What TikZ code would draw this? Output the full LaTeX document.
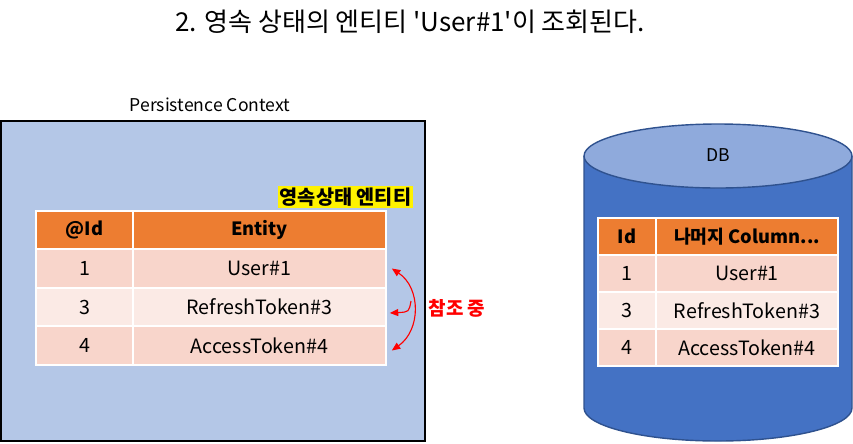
\documentclass[tikz,border=0pt]{standalone}
\usepackage{fontspec}
\setmainfont{Noto Sans CJK KR}
\usetikzlibrary{arrows.meta}

\definecolor{ctxblue}{HTML}{B4C7E7}
\definecolor{hdrorange}{HTML}{ED7D31}
\definecolor{rowa}{HTML}{F8D5CB}
\definecolor{rowb}{HTML}{FBEAE5}
\definecolor{dbtop}{HTML}{8FAADC}
\definecolor{dbbody}{HTML}{4472C4}
\definecolor{dbedge}{HTML}{2F528F}
\def\px{0.025cm}

\begin{document}
\begin{tikzpicture}[x=0.025cm, y=-0.025cm,
    cell/.style={draw=white, line width=1.2pt, inner sep=0pt, font=\fontsize{14}{16}\selectfont},
    hdr/.style={cell, fill=hdrorange, font=\fontsize{13}{15}\selectfont\bfseries},
    refarrow/.style={red, line width=0.8pt, -{Triangle[length=6pt, width=5pt]}}]
        \useasboundingbox (0,0) rectangle (853,443);

        % Title
        \node (title) at (410,22) {\fontsize{18.5}{21}\selectfont 2. 영속 상태의 엔티티 \textquotesingle User\#1\textquotesingle 이 조회된다.};

        % Draw persistence context (left)
        \begin{scope}
            \node (ctxlabel) at (210,105) {\fontsize{12.5}{14}\selectfont Persistence Context};
            \draw[fill=ctxblue, line width=1.5pt] (1,121) rectangle (425,441);
            \node[fill=yellow, inner sep=1pt, font=\fontsize{14}{16}\selectfont\bfseries] (state) at (345.5,197) {영속상태 엔티티};
            \node[hdr, minimum width=97*\px, minimum height=38*\px] (pidh) at (84.5,230) {@Id};
            \node[hdr, minimum width=253*\px, minimum height=38*\px] (penth) at (259.5,230) {Entity};
            \foreach \id/\name/\clr [count=\i] in {1/User\#1/rowa, 3/RefreshToken\#3/rowb, 4/AccessToken\#4/rowa} {
                \node[cell, fill=\clr, minimum width=97*\px, minimum height=38.5*\px] (pid\i) at (84.5,230+38.5*\i) {\id};
                \node[cell, fill=\clr, minimum width=253*\px, minimum height=38.5*\px] (pent\i) at (259.5,230+38.5*\i) {\name};
            }
        \end{scope}

        % Draw references between entities
        \coordinate (refmid) at (411,301);
        \draw[refarrow, {Triangle[length=6pt, width=5pt]}-{Triangle[length=6pt, width=5pt]}]
            ([shift={(5,0)}]pent1.east) .. controls (421,288) and (421,330) .. ([shift={(5,5)}]pent3.east);
        \draw[refarrow] (refmid) .. controls (409,312) .. ([shift={(3,6)}]pent2.east);
        \node[red, font=\fontsize{13.5}{15}\selectfont\bfseries] (reflabel) at (457,308) {참조 중};

        % Draw database cylinder (right)
        \begin{scope}
            \fill[dbbody] (584,156) -- (584,408) arc[start angle=180, end angle=0, x radius=134, y radius=33] -- (852,156) -- cycle;
            \draw[dbedge, line width=1pt] (584,156) -- (584,408) arc[start angle=180, end angle=0, x radius=134, y radius=33] -- (852,156);
            \draw[dbedge, fill=dbtop, line width=1pt] (718,156) ellipse [x radius=134, y radius=32];
            \node (db) at (718,155) {\fontsize{12.5}{14}\selectfont DB};
            \node[hdr, minimum width=58*\px, minimum height=37*\px] (didh) at (627,236.5) {Id};
            \node[hdr, minimum width=182*\px, minimum height=37*\px] (dcolh) at (747,236.5) {나머지 Column...};
            \foreach \id/\name/\clr [count=\i] in {1/User\#1/rowa, 3/RefreshToken\#3/rowb, 4/AccessToken\#4/rowa} {
                \node[cell, fill=\clr, minimum width=58*\px, minimum height=37*\px] (did\i) at (627,236.5+37*\i) {\id};
                \node[cell, fill=\clr, minimum width=182*\px, minimum height=37*\px] (dcol\i) at (747,236.5+37*\i) {\name};
            }
        \end{scope}
    \end{tikzpicture}
\end{document}
